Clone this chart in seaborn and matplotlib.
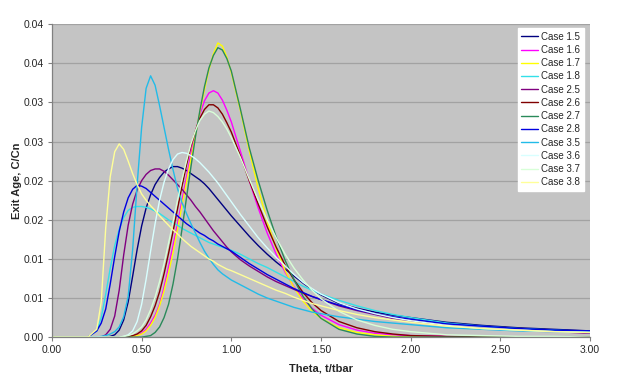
import numpy as np
import pandas as pd
import seaborn as sns
import matplotlib
matplotlib.use("Agg")
import matplotlib.pyplot as plt

# dimensionless time, t/tbar (denser where the peaks are)
theta = [0.0, 0.2,
         0.25, 0.275, 0.3, 0.325, 0.35, 0.375, 0.4, 0.425, 0.45, 0.475, 0.5,
         0.525, 0.55, 0.575, 0.6, 0.625, 0.65, 0.675, 0.7, 0.725, 0.75,
         0.775, 0.8, 0.825, 0.85, 0.875, 0.9, 0.925, 0.95, 0.975, 1.0,
         1.05, 1.1, 1.15, 1.2, 1.25, 1.3, 1.35, 1.4, 1.45, 1.5,
         1.6, 1.7, 1.8, 1.9, 2.0, 2.2, 2.4, 2.6, 2.8, 3.0]

# exit age C/Cn, one list per case
case_1_5 = [0, 0,
            0, 0, 0, 0.0001, 0.0003, 0.0009, 0.0022, 0.0045, 0.0078, 0.0112, 0.0142,
            0.0165, 0.0182, 0.0195, 0.0204, 0.0211, 0.0215, 0.0218, 0.0218, 0.0216, 0.0213,
            0.0209, 0.0205, 0.0201, 0.0196, 0.0190, 0.0183, 0.0176, 0.0169, 0.0162, 0.0155,
            0.0142, 0.0129, 0.0117, 0.0106, 0.0096, 0.0087, 0.0078, 0.0069, 0.0061, 0.0054,
            0.0043, 0.0037, 0.0032, 0.0028, 0.0025, 0.0019, 0.0015, 0.0012, 0.0010, 0.0008]
case_1_6 = [0, 0,
            0, 0, 0, 0, 0, 0, 0, 0, 0.0001, 0.0002, 0.0005,
            0.0010, 0.0018, 0.0028, 0.0042, 0.0064, 0.0090, 0.0117, 0.0145, 0.0175, 0.0205,
            0.0235, 0.0262, 0.0285, 0.0302, 0.0312, 0.0315, 0.0312, 0.0303, 0.0290, 0.0275,
            0.0238, 0.0200, 0.0165, 0.0133, 0.0106, 0.0083, 0.0064, 0.0049, 0.0037, 0.0028,
            0.0016, 0.0009, 0.0005, 0.0003, 0.0002, 0.0001, 0, 0, 0, 0]
case_1_7 = [0, 0,
            0, 0, 0, 0, 0, 0, 0, 0, 0.0001, 0.0002, 0.0004,
            0.0008, 0.0015, 0.0025, 0.0040, 0.0059, 0.0082, 0.0108, 0.0138, 0.0168, 0.0198,
            0.0228, 0.0258, 0.0288, 0.0316, 0.0342, 0.0362, 0.0376, 0.0372, 0.0358, 0.0338,
            0.0290, 0.0238, 0.0190, 0.0148, 0.0113, 0.0085, 0.0063, 0.0046, 0.0033, 0.0024,
            0.0012, 0.0006, 0.0003, 0.0001, 0, 0, 0, 0, 0, 0]
case_1_8 = [0, 0,
            0.0008, 0.0025, 0.0055, 0.0088, 0.0117, 0.0138, 0.0153, 0.0162, 0.0166, 0.0167, 0.0167,
            0.0166, 0.0164, 0.0161, 0.0158, 0.0154, 0.0150, 0.0146, 0.0143, 0.0139, 0.0136,
            0.0133, 0.0130, 0.0127, 0.0124, 0.0121, 0.0119, 0.0117, 0.0115, 0.0113, 0.0111,
            0.0106, 0.0100, 0.0094, 0.0089, 0.0083, 0.0077, 0.0071, 0.0065, 0.0060, 0.0055,
            0.0047, 0.0040, 0.0034, 0.0029, 0.0025, 0.0018, 0.0014, 0.0011, 0.0009, 0.0007]
case_2_5 = [0, 0,
            0, 0, 0.0003, 0.0010, 0.0027, 0.0060, 0.0105, 0.0143, 0.0170, 0.0188, 0.0200,
            0.0208, 0.0213, 0.0215, 0.0215, 0.0212, 0.0207, 0.0201, 0.0195, 0.0189, 0.0182,
            0.0175, 0.0167, 0.0160, 0.0152, 0.0144, 0.0136, 0.0129, 0.0122, 0.0115, 0.0109,
            0.0099, 0.0091, 0.0084, 0.0077, 0.0071, 0.0066, 0.0061, 0.0056, 0.0052, 0.0048,
            0.0040, 0.0034, 0.0029, 0.0024, 0.0021, 0.0015, 0.0011, 0.0009, 0.0007, 0.0005]
case_2_6 = [0, 0,
            0, 0, 0, 0, 0, 0, 0, 0.0001, 0.0002, 0.0004, 0.0008,
            0.0015, 0.0026, 0.0040, 0.0058, 0.0081, 0.0107, 0.0135, 0.0164, 0.0193, 0.0220,
            0.0244, 0.0264, 0.0280, 0.0291, 0.0297, 0.0297, 0.0293, 0.0285, 0.0274, 0.0262,
            0.0232, 0.0200, 0.0170, 0.0141, 0.0115, 0.0092, 0.0073, 0.0057, 0.0044, 0.0034,
            0.0020, 0.0012, 0.0007, 0.0004, 0.0002, 0.0001, 0, 0, 0, 0]
case_2_7 = [0, 0,
            0, 0, 0, 0, 0, 0, 0, 0, 0, 0, 0,
            0.0001, 0.0002, 0.0006, 0.0013, 0.0025, 0.0042, 0.0068, 0.0100, 0.0138, 0.0178,
            0.0218, 0.0256, 0.0290, 0.0320, 0.0344, 0.0360, 0.0370, 0.0367, 0.0356, 0.0340,
            0.0292, 0.0242, 0.0200, 0.0162, 0.0128, 0.0098, 0.0073, 0.0052, 0.0036, 0.0024,
            0.0010, 0.0004, 0.0001, 0, 0, 0, 0, 0, 0, 0]
case_2_8 = [0, 0,
            0.0008, 0.0018, 0.0036, 0.0068, 0.0103, 0.0135, 0.0160, 0.0178, 0.0189, 0.0194, 0.0193,
            0.0190, 0.0185, 0.0180, 0.0175, 0.0170, 0.0165, 0.0160, 0.0155, 0.0150, 0.0145,
            0.0141, 0.0137, 0.0133, 0.0130, 0.0126, 0.0123, 0.0119, 0.0116, 0.0113, 0.0110,
            0.0102, 0.0094, 0.0087, 0.0080, 0.0074, 0.0068, 0.0062, 0.0057, 0.0052, 0.0048,
            0.0041, 0.0035, 0.0030, 0.0026, 0.0023, 0.0017, 0.0014, 0.0011, 0.0009, 0.0008]
case_3_5 = [0, 0,
            0, 0.0001, 0.0002, 0.0004, 0.0007, 0.0013, 0.0026, 0.0052, 0.0112, 0.0195, 0.0268,
            0.0318, 0.0334, 0.0322, 0.0296, 0.0268, 0.0240, 0.0214, 0.0190, 0.0172, 0.0158,
            0.0145, 0.0133, 0.0121, 0.0110, 0.0101, 0.0093, 0.0086, 0.0081, 0.0077, 0.0073,
            0.0067, 0.0061, 0.0055, 0.0050, 0.0046, 0.0042, 0.0038, 0.0035, 0.0032, 0.0030,
            0.0026, 0.0023, 0.0020, 0.0018, 0.0016, 0.0012, 0.0010, 0.0008, 0.0007, 0.0006]
case_3_6 = [0, 0,
            0, 0, 0, 0, 0, 0, 0.0001, 0.0003, 0.0008, 0.0020, 0.0042,
            0.0074, 0.0110, 0.0145, 0.0175, 0.0198, 0.0215, 0.0227, 0.0234, 0.0236, 0.0235,
            0.0232, 0.0228, 0.0223, 0.0217, 0.0211, 0.0204, 0.0197, 0.0189, 0.0181, 0.0173,
            0.0157, 0.0142, 0.0127, 0.0114, 0.0102, 0.0091, 0.0080, 0.0070, 0.0062, 0.0055,
            0.0044, 0.0036, 0.0030, 0.0025, 0.0021, 0.0015, 0.0011, 0.0009, 0.0007, 0.0006]
case_3_7 = [0, 0,
            0, 0, 0, 0, 0, 0, 0.0001, 0.0002, 0.0004, 0.0008, 0.0013,
            0.0022, 0.0035, 0.0051, 0.0071, 0.0094, 0.0120, 0.0147, 0.0175, 0.0201, 0.0225,
            0.0247, 0.0264, 0.0277, 0.0285, 0.0289, 0.0287, 0.0282, 0.0275, 0.0266, 0.0255,
            0.0230, 0.0202, 0.0175, 0.0150, 0.0127, 0.0106, 0.0088, 0.0073, 0.0060, 0.0049,
            0.0033, 0.0022, 0.0015, 0.0010, 0.0007, 0.0003, 0.0002, 0.0001, 0.0001, 0]
case_3_8 = [0, 0,
            0.0010, 0.0045, 0.0140, 0.0205, 0.0237, 0.0247, 0.0240, 0.0225, 0.0209, 0.0195, 0.0183,
            0.0175, 0.0168, 0.0162, 0.0155, 0.0149, 0.0143, 0.0137, 0.0132, 0.0126, 0.0121,
            0.0116, 0.0112, 0.0108, 0.0104, 0.0100, 0.0097, 0.0093, 0.0090, 0.0087, 0.0085,
            0.0080, 0.0075, 0.0070, 0.0065, 0.0060, 0.0056, 0.0051, 0.0047, 0.0043, 0.0040,
            0.0034, 0.0029, 0.0025, 0.0022, 0.0019, 0.0014, 0.0011, 0.0009, 0.0007, 0.0006]

case_names = ["Case 1.5", "Case 1.6", "Case 1.7", "Case 1.8", "Case 2.5", "Case 2.6",
              "Case 2.7", "Case 2.8", "Case 3.5", "Case 3.6", "Case 3.7", "Case 3.8"]
case_values = [case_1_5, case_1_6, case_1_7, case_1_8, case_2_5, case_2_6,
               case_2_7, case_2_8, case_3_5, case_3_6, case_3_7, case_3_8]
case_colors = ["#000080", "#FF00FF", "#FFFF00", "#33E0E8", "#800080", "#800000",
               "#2A8A5A", "#0000E0", "#22BBE8", "#D8FFFF", "#D8FFD8", "#FFFF99"]

x_ticks = [0.0, 0.5, 1.0, 1.5, 2.0, 2.5, 3.0]
y_ticks = [0.0, 0.005, 0.01, 0.015, 0.02, 0.025, 0.03, 0.035, 0.04]
y_tick_labels = ["0.00", "0.01", "0.01", "0.02", "0.02", "0.03", "0.03", "0.04", "0.04"]

rows = []
for name, vals in zip(case_names, case_values):
    for t, v in zip(theta, vals):
        rows.append({"theta": t, "exit_age": v, "case": name})
df = pd.DataFrame(rows)

sns.set_theme(style="white", rc={"axes.facecolor": "#C4C4C4"})
plt.rcParams["font.family"] = ["Liberation Sans", "DejaVu Sans"]

fig = plt.figure(figsize=(6.18, 3.84), dpi=100)
ax = fig.add_axes([0.084, 0.122, 0.871, 0.815])

sns.lineplot(data=df, x="theta", y="exit_age", hue="case", hue_order=case_names,
             palette=case_colors, estimator=None, sort=False, linewidth=1.0, ax=ax)

ax.set_xlim(0, 3)
ax.set_ylim(0, 0.04)
ax.set_xticks(x_ticks)
ax.set_xticklabels([f"{t:.2f}" for t in x_ticks])
ax.set_yticks(y_ticks)
ax.set_yticklabels(y_tick_labels)
ax.yaxis.grid(True, color="#A2A2A2", linewidth=0.9)
ax.set_axisbelow(True)
ax.tick_params(axis="both", direction="out", length=3, width=0.8, color="#808080",
               labelsize=7.5, pad=3, left=True, bottom=True)
for side in ["top", "right"]:
    ax.spines[side].set_visible(False)
for side in ["left", "bottom"]:
    ax.spines[side].set_color("#808080")
    ax.spines[side].set_linewidth(0.9)

ax.set_xlabel("Theta, t/tbar", fontsize=8, fontweight="bold", labelpad=6)
ax.set_ylabel("Exit Age, C/Cn", fontsize=8, fontweight="bold", labelpad=1)

handles, labels = ax.get_legend_handles_labels()
leg = ax.legend(handles, labels, loc="upper right", bbox_to_anchor=(0.988, 0.988),
                borderaxespad=0, fontsize=7, frameon=True, fancybox=False,
                labelspacing=0.33, handlelength=1.7, handletextpad=0.3,
                borderpad=0.4)
leg.get_frame().set_facecolor("white")
leg.get_frame().set_edgecolor("white")
leg.get_frame().set_alpha(1)

fig.savefig("out.png", dpi=100)
